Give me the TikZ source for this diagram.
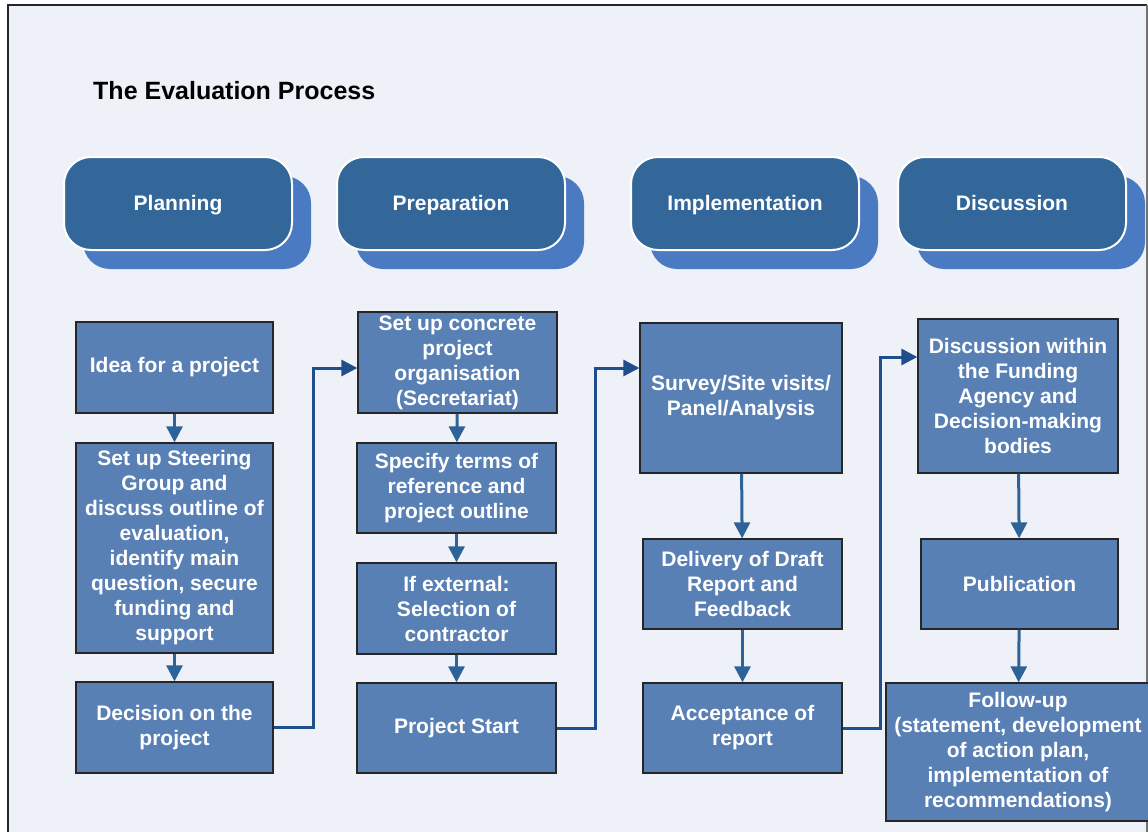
\documentclass[tikz,border=0pt]{standalone}
\usepackage{fontspec}
\setmainfont{Liberation Sans}
\usetikzlibrary{arrows.meta}
\definecolor{bgc}{HTML}{EEF1F7}
\definecolor{boxc}{HTML}{5980B5}
\definecolor{hdrc}{HTML}{336699}
\definecolor{shdc}{HTML}{4A7AC1}
\definecolor{conc}{HTML}{1F4E8A}
\definecolor{arrc}{HTML}{2E6399}
\tikzset{
  stepbox/.style={draw=black!85, line width=1.3pt, fill=boxc, text=white, align=center,
    font=\bfseries\fontsize{21}{25}\selectfont, inner sep=0pt},
  hdr/.style={draw=white, line width=2pt, fill=hdrc, rounded corners=27pt, text=white,
    minimum width=228pt, minimum height=93pt, text height=17pt, text depth=3pt,
    font=\bfseries\fontsize{21}{25}\selectfont},
  hdrshadow/.style={fill=shdc, rounded corners=27pt, minimum width=228pt, minimum height=93pt},
  vflow/.style={draw=arrc, line width=3pt, -{Triangle[length=16pt,width=16pt]}},
  link/.style={draw=conc, line width=3pt, -{Triangle[length=16pt,width=16pt]}},
}
\begin{document}
\begin{tikzpicture}[x=1pt,y=-1pt]
\useasboundingbox (0,0) rectangle (1148,832);
\fill[bgc] (7.5,5) rectangle (1147,840);
\draw[black!85, line width=2pt] (7.5,840) -- (7.5,5) -- (1147,5);
\draw[black!55, line width=1.5pt] (1147,5) -- (1147,840);

\node[anchor=west, inner sep=0pt, font=\bfseries\fontsize{25}{30}\selectfont] (title) at (93,91) {The Evaluation Process};

% headers
\node[hdrshadow] (s1) at (197,222.5) {};
\node[hdr] (h1) at (178,203.5) {Planning};
\node[hdrshadow] (s2) at (470,222.5) {};
\node[hdr] (h2) at (451,203.5) {Preparation};
\node[hdrshadow] (s3) at (764,222.5) {};
\node[hdr] (h3) at (745,203.5) {Implementation};
\node[hdrshadow] (s4) at (1031,222.5) {};
\node[hdr] (h4) at (1012,203.5) {Discussion};

% column 1
\node[stepbox, minimum width=197pt, minimum height=91pt] (idea) at (174.5,367.5) {Idea for a project};
\node[stepbox, minimum width=197pt, minimum height=210pt] (steer) at (174.5,548) {Set up Steering\\Group and\\discuss outline of\\evaluation,\\identify main\\question, secure\\funding and\\support};
\node[stepbox, minimum width=197pt, minimum height=91pt] (dec) at (174.5,727.5) {Decision on the\\project};

% column 2
\node[stepbox, minimum width=199pt, minimum height=101pt] (conc) at (457.5,362.5) {Set up concrete\\project\\organisation\\(Secretariat)};
\node[stepbox, minimum width=199pt, minimum height=90pt] (spec) at (456.5,488) {Specify terms of\\reference and\\project outline};
\node[stepbox, minimum width=199pt, minimum height=91pt] (ext) at (456.5,608.5) {If external:\\Selection of\\contractor};
\node[stepbox, minimum width=199pt, minimum height=90pt] (start) at (456.5,728) {Project Start};

% column 3
\node[stepbox, minimum width=202pt, minimum height=150pt] (survey) at (741,398) {Survey/Site visits/\\Panel/Analysis};
\node[stepbox, minimum width=199pt, minimum height=90pt] (draft) at (742.5,584) {Delivery of Draft\\Report and\\Feedback};
\node[stepbox, minimum width=199pt, minimum height=90pt] (accept) at (742.5,728) {Acceptance of\\report};

% column 4
\node[stepbox, minimum width=200pt, minimum height=154pt] (disc) at (1018,396) {Discussion within\\the Funding\\Agency and\\Decision-making\\bodies};
\node[stepbox, minimum width=197pt, minimum height=90pt] (pub) at (1019.5,584) {Publication};
\node[stepbox, minimum width=264pt, minimum height=138pt] (follow) at (1018,752) {Follow-up\\(statement, development\\of action plan,\\implementation of\\recommendations)};

% vertical arrows
\draw[vflow] (idea) -- (steer);
\draw[vflow] (steer) -- (dec);
\draw[vflow] (conc) -- (spec);
\draw[vflow] (spec) -- (ext);
\draw[vflow] (ext) -- (start);
\draw[vflow] (survey) -- (draft);
\draw[vflow] (draft) -- (accept);
\draw[vflow] (disc) -- (pub);
\draw[vflow] (pub) -- (follow);

% connectors between columns
\coordinate (k1) at (313,0);
\coordinate (k2) at (595,0);
\coordinate (k3) at (880,0);
\draw[link] (dec.east) -- (dec.east -| k1) |- ([yshift=-5.5pt]conc.west);
\draw[link] (start.east) -- (start.east -| k2) |- ([yshift=30pt]survey.west);
\draw[link] (accept.east) -- (accept.east -| k3) |- ([yshift=39pt]disc.west);
\end{tikzpicture}
\end{document}
